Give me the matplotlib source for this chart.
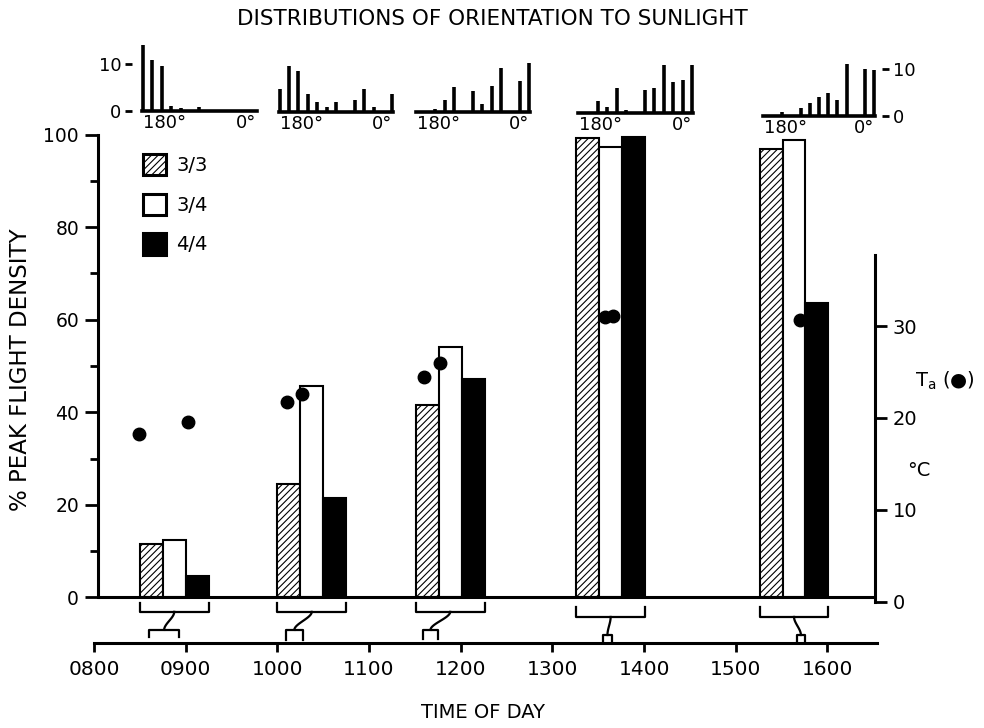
import numpy as np
import matplotlib
matplotlib.use("Agg")
import matplotlib.pyplot as plt

# flight density (% of peak) at each observation period
period_time = [8.875, 10.375, 11.885, 13.635, 15.635]   # hour of day, centre of group
density_33 = [11.5, 24.5, 41.5, 99.2, 96.9]
density_34 = [12.5, 45.6, 54.1, 97.3, 98.8]
density_44 = [4.6, 21.5, 47.3, 99.4, 63.6]

# observation windows (hours) shown by the small brackets
window_start = [8.60, 10.09, 11.59, 13.55, 15.67]
window_end = [8.93, 10.28, 11.75, 13.65, 15.75]

# air temperature
temp_time = [8.49, 9.03, 10.10, 10.27, 11.60, 11.77, 13.57, 13.66, 15.70]
temp_c = [18.3, 19.6, 21.7, 22.6, 24.5, 26.0, 31.0, 31.1, 30.7]

time_ticks = [8, 9, 10, 11, 12, 13, 14, 15, 16]
time_labels = ["0800", "0900", "1000", "1100", "1200", "1300", "1400", "1500", "1600"]

# orientation to sunlight, 180 deg -> 0 deg
angles = [180, 165, 150, 135, 120, 105, 90, 75, 60, 45, 30, 15, 0]
hist_0900 = [14.0, 10.9, 9.6, 1.1, 0.7, 0, 0.9, 0, 0, 0, 0, 0, 0]
hist_1000 = [5.0, 9.8, 8.8, 3.9, 2.1, 1.1, 2.1, 0, 2.6, 4.8, 1.1, 0, 3.9]
hist_1200 = [0, 0, 0.7, 2.6, 5.4, 0, 4.5, 1.6, 5.5, 9.3, 0, 6.6, 10.4]
hist_1400 = [0, 0, 2.6, 1.3, 5.4, 0.6, 0, 5.0, 5.4, 10.2, 6.6, 7.1, 10.2]
hist_1600 = [0, 0, 0.8, 0, 1.8, 2.8, 4.1, 5.0, 3.4, 11.0, 0, 9.9, 9.8]

plt.rcParams["font.family"] = ["DejaVu Sans"]
plt.rcParams["hatch.linewidth"] = 0.8

W, H = 984, 728
fig = plt.figure(figsize=(W / 100, H / 100), dpi=100)


def fig_box(left, right, bottom, top):
    return [left / W, 1 - bottom / H, (right - left) / W, (bottom - top) / H]


ax = fig.add_axes(fig_box(94, 877, 643, 131))
ax.set_xlim(8.0, 16.54)
ax.set_ylim(-9.83, 100.76)

bw = 0.25
t = np.array(period_time)
bar_kw = dict(width=bw, edgecolor="black", linewidth=1.5, zorder=3)
b1 = ax.bar(t - bw, density_33, color="white", hatch="/////", label="3/3", **bar_kw)
b2 = ax.bar(t, density_34, color="white", label="3/4", **bar_kw)
b3 = ax.bar(t + bw, density_44, color="black", label="4/4", **bar_kw)

# zero line of the density axis
ax.hlines(0, 8.04, 16.52, color="black", lw=2.2, zorder=4)

# brackets linking each group to its observation window
lvl = [(-1.2, -3.1, -7.0, -8.6), (-1.2, -3.1, -7.0, -9.2), (-1.2, -3.1, -7.0, -9.0),
       (-2.0, -4.2, -8.1, -9.8), (-2.0, -4.2, -8.1, -9.8)]
s = np.linspace(0, 1, 40)
smooth = 3 * s ** 2 - 2 * s ** 3
for i in range(len(period_time)):
    top, mid, low, foot = lvl[i]
    x0, x1 = period_time[i] - 1.5 * bw, period_time[i] + 1.5 * bw
    ax.plot([x0, x0, x1, x1], [top, mid, mid, top], color="black", lw=1.6, clip_on=False)
    w0, w1 = window_start[i], window_end[i]
    ax.plot([w0, w0, w1, w1], [foot, low, low, foot], color="black", lw=1.6, clip_on=False)
    xa, xb = period_time[i], (w0 + w1) / 2
    ax.plot(xa + (xb - xa) * smooth, mid + (low - mid) * s, color="black", lw=1.6,
            clip_on=False)

for side in ["top", "right"]:
    ax.spines[side].set_visible(False)
ax.spines["left"].set_position(("data", 8.04))
ax.spines["left"].set_bounds(0, 100)
ax.spines["left"].set_linewidth(2.2)
ax.spines["bottom"].set_linewidth(2.2)

ax.set_yticks([0, 20, 40, 60, 80, 100])
ax.set_yticks([10, 30, 50, 70, 90], minor=True)
ax.tick_params(axis="y", which="major", direction="out", length=9.4, width=2, labelsize=13.5, pad=4)
ax.tick_params(axis="y", which="minor", direction="out", length=5.8, width=2)
ax.set_xticks(time_ticks)
ax.set_xticklabels(time_labels)
ax.tick_params(axis="x", direction="out", length=6.5, width=2, labelsize=14.5, pad=6)

leg = ax.legend(handles=[b1, b2, b3], loc="upper left",
                bbox_to_anchor=(143 / W, 1 - 154 / H), bbox_transform=fig.transFigure,
                frameon=False, borderpad=0, borderaxespad=0, handlelength=1.17,
                handleheight=1.3, handletextpad=0.55, labelspacing=0.95, fontsize=14)
for p in leg.get_patches():
    p.set_linewidth(2.2)

# temperature axis
ax2 = ax.twinx()
ax2.set_ylim(-4.46, 51.2)
ax2.plot(temp_time, temp_c, "o", color="black", markersize=9, zorder=5)
for side in ["top", "left", "bottom"]:
    ax2.spines[side].set_visible(False)
ax2.spines["right"].set_position(("data", 16.517))
ax2.spines["right"].set_bounds(0, 37.7)
ax2.spines["right"].set_linewidth(2.2)
ax2.set_yticks([0, 10, 20, 30])
ax2.tick_params(axis="y", direction="out", length=8.6, width=2, labelsize=14, pad=4)

# orientation histograms along the top
hists = [hist_0900, hist_1000, hist_1200, hist_1400, hist_1600]
boxes = [(142, 257, 111), (279, 393, 112), (416, 530, 112), (578, 693, 113), (763, 875, 116)]
for k, (counts, (l, r, base)) in enumerate(zip(hists, boxes)):
    hx = fig.add_axes(fig_box(l, r, base, base - 70.5))
    hx.set_xlim(181, -1)
    hx.set_ylim(0, 15)
    hx.patch.set_alpha(0)
    hx.vlines(angles, 0, counts, color="black", lw=2.6, capstyle="butt", clip_on=False)
    for side in ["top", "left", "right"]:
        hx.spines[side].set_visible(False)
    hx.spines["bottom"].set_linewidth(2.6)
    hx.set_xticks([180, 0])
    hx.set_xticklabels(["180°", "0°"])
    hx.tick_params(axis="x", length=0, labelsize=13, pad=2)
    xl = hx.get_xticklabels()
    xl[0].set_ha("left")
    xl[1].set_ha("right")
    if k == 0:
        hx.spines["left"].set_position(("outward", 7))
        hx.set_yticks([0, 10])
        hx.tick_params(axis="y", length=5, width=2, labelsize=13, pad=3)
    elif k == len(hists) - 1:
        hx.spines["right"].set_position(("outward", 5))
        hx.yaxis.tick_right()
        hx.set_yticks([0, 10])
        hx.tick_params(axis="y", length=5, width=2, labelsize=13, pad=3)
    else:
        hx.set_yticks([])

fig.text(492 / W, 1 - 19 / H, "DISTRIBUTIONS OF ORIENTATION TO SUNLIGHT",
         ha="center", va="center", fontsize=15.5)
fig.text(21 / W, 1 - 370 / H, "% PEAK FLIGHT DENSITY", rotation=90,
         ha="center", va="center", fontsize=16.5)
fig.text(483 / W, 1 - 712 / H, "TIME OF DAY", ha="center", va="center", fontsize=14)
fig.text(945 / W, 1 - 381 / H, r"T$_\mathregular{a}$ (●)", ha="center", va="center", fontsize=14)
fig.text(919 / W, 1 - 470 / H, "°C", ha="center", va="center", fontsize=14)

fig.savefig("out.png", dpi=100)
plt.close(fig)
